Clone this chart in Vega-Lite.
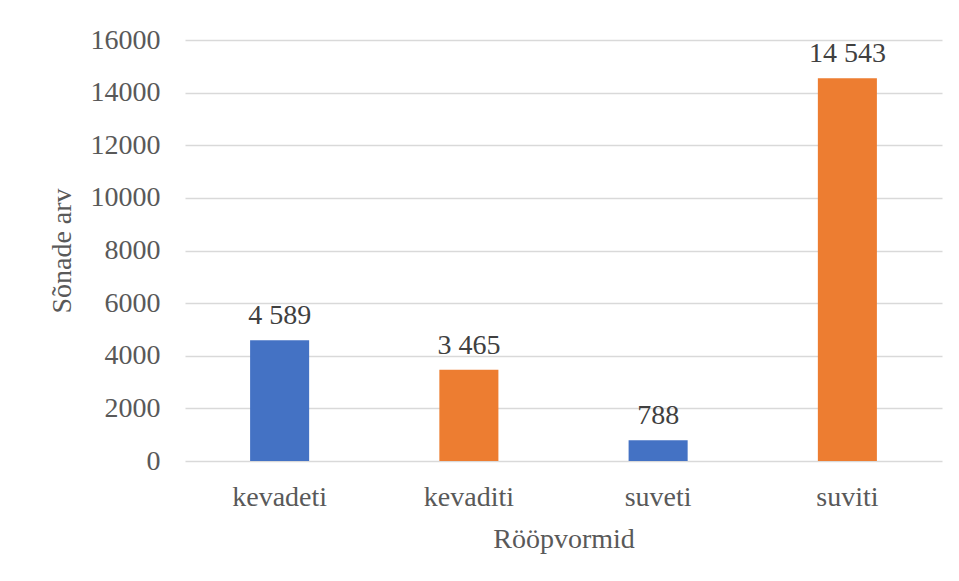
{
  "$schema": "https://vega.github.io/schema/vega-lite/v6.json",
  "width": 757,
  "height": 421,
  "autosize": {"type": "none"},
  "padding": {"left": 185, "top": 40, "right": 17, "bottom": 120},
  "background": "white",
  "config": {
    "view": {"stroke": null},
    "font": "Liberation Serif",
    "axis": {
      "labelFont": "Liberation Serif",
      "titleFont": "Liberation Serif",
      "labelFontSize": 28,
      "titleFontSize": 28,
      "labelColor": "#595959",
      "titleColor": "#595959",
      "titleFontWeight": "normal",
      "gridColor": "#D9D9D9",
      "gridWidth": 1.5,
      "ticks": false,
      "domain": false
    }
  },
  "data": {
    "values": [
      {"vorm": "kevadeti", "arv": 4589, "silt": "4 589", "tyyp": "e"},
      {"vorm": "kevaditi", "arv": 3465, "silt": "3 465", "tyyp": "i"},
      {"vorm": "suveti", "arv": 788, "silt": "788", "tyyp": "e"},
      {"vorm": "suviti", "arv": 14543, "silt": "14 543", "tyyp": "i"}
    ]
  },
  "encoding": {
    "x": {
      "field": "vorm",
      "type": "nominal",
      "sort": null,
      "scale": {"paddingInner": 0.688, "paddingOuter": 0.344},
      "axis": {"title": "Rööpvormid", "labelAngle": 0, "labelPadding": 22, "titlePadding": 14, "grid": false}
    },
    "y": {
      "field": "arv",
      "type": "quantitative",
      "scale": {"domain": [0, 16000], "nice": false},
      "axis": {
        "title": "Sõnade arv",
        "values": [0, 2000, 4000, 6000, 8000, 10000, 12000, 14000, 16000],
        "format": "d",
        "labelPadding": 25,
        "titlePadding": 14
      }
    }
  },
  "layer": [
    {
      "mark": {"type": "bar"},
      "encoding": {
        "color": {
          "field": "tyyp",
          "type": "nominal",
          "scale": {"domain": ["e", "i"], "range": ["#4472C4", "#ED7D31"]},
          "legend": null
        }
      }
    },
    {
      "mark": {"type": "text", "font": "Liberation Serif", "fontSize": 28, "color": "#404040", "baseline": "alphabetic", "dy": -16},
      "encoding": {"text": {"field": "silt"}}
    }
  ]
}
